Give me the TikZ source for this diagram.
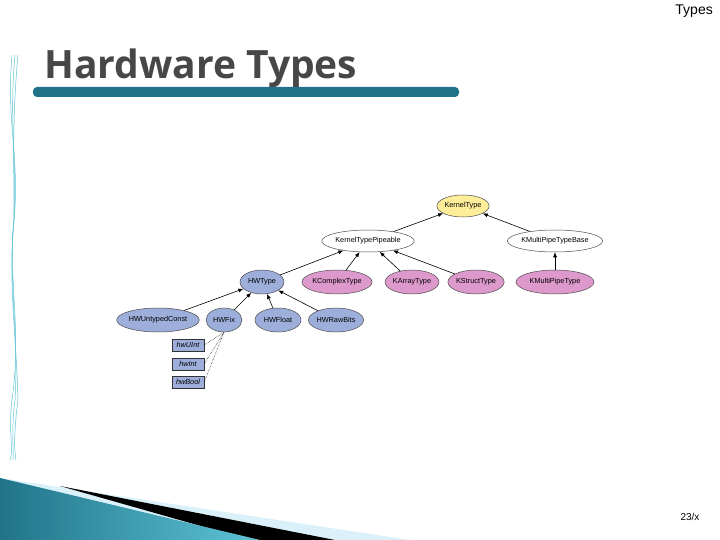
\documentclass[tikz,border=0pt]{standalone}
\usepackage{fontspec}
\setmainfont{Liberation Sans}
\newfontfamily\titlefont{Open Sans}
\usetikzlibrary{shapes.geometric,arrows.meta}
\definecolor{hwblue}{HTML}{9DAEDB}
\definecolor{kpink}{HTML}{DD99CC}
\definecolor{kyellow}{HTML}{FFEE99}
\definecolor{barteal}{HTML}{20748A}
\definecolor{deco}{HTML}{5FC3D6}
\begin{document}
\begin{tikzpicture}[x=1pt,y=-1pt,
  cls/.style={ellipse,draw=black!70,line width=0.5pt,inner sep=0pt,minimum height=22,font=\fontsize{7.3}{8}\selectfont},
  blue/.style={cls,fill=hwblue},
  pink/.style={cls,fill=kpink},
  inst/.style={rectangle,draw=black!80,fill=hwblue,inner sep=0pt,minimum width=32,minimum height=12,font=\fontsize{7.3}{8}\selectfont\itshape},
  inh/.style={-{Latex[length=5pt,width=4pt]},line width=0.6pt},
  ins/.style={densely dotted,line width=0.5pt}]
\useasboundingbox (0,0) rectangle (720,540);
\fill[white] (0,0) rectangle (720,540);
% decorations
\foreach \o in {0,3,6}{
\draw[deco,line width=0.5pt] (12+\o,55) .. controls (6+\o,120) and (20-\o,160) .. (14,220) .. controls (8,280) and (22-\o,330) .. (12+\o,400) .. controls (8+\o,430) and (14,450) .. (10+\o,460);}
\fill[black!10!cyan!15] (0,478) -- (410,540) -- (0,540) -- cycle;
\fill[black] (60,486) -- (335,540) -- (250,540) -- cycle;
\shade[left color=barteal,right color=deco] (0,478) -- (260,540) -- (0,540) -- cycle;
% texts
\node[anchor=north east,font=\fontsize{14}{16}\selectfont,inner sep=0pt] (hdr) at (713,5) {Types};
\node[anchor=base west,font=\titlefont\bfseries\fontsize{39}{42}\selectfont,text=black!72,inner sep=0pt] (title) at (44,79) {Hardware Types};
\fill[barteal,rounded corners=4pt] (33,87) rectangle (459,97);
\node[font=\fontsize{10}{12}\selectfont,inner sep=0pt] (pg) at (690,517) {23/x};
% classes
\node[cls,fill=kyellow,minimum width=50] (kt) at (463,206) {KernelType};
\node[cls,fill=white,minimum width=76] (ktp) at (368,241) {KernelTypePipeable};
\node[cls,fill=white,minimum width=86] (kmb) at (555,241) {KMultiPipeTypeBase};
\node[blue,minimum width=44,minimum height=24] (hw) at (262,282) {HWType};
\node[pink,minimum width=64,minimum height=24] (kc) at (337,282) {KComplexType};
\node[pink,minimum width=52,minimum height=24] (ka) at (412,282) {KArrayType};
\node[pink,minimum width=52,minimum height=24] (ks) at (476,282) {KStructType};
\node[pink,minimum width=78,minimum height=24] (km) at (555,282) {KMultiPipeType};
\node[blue,minimum width=78,minimum height=24] (hu) at (158,320) {HWUntypedConst};
\node[blue,minimum width=36,minimum height=24] (hf) at (224,320) {HWFix};
\node[blue,minimum width=46,minimum height=24] (hfl) at (278,320) {HWFloat};
\node[blue,minimum width=50,minimum height=24] (hr) at (336,320) {HWRawBits};
\node[inst] (iu) at (188,345) {hwUInt};
\node[inst] (ii) at (188,364) {hwInt};
\node[inst] (ib) at (188,382) {hwBool};
% edges
\draw[inh] (ktp) -- (kt);
\draw[inh] (kmb) -- (kt);
\draw[inh] (hw) -- (ktp);
\draw[inh] (kc) -- (ktp);
\draw[inh] (ka) -- (ktp);
\draw[inh] (ks) -- (ktp);
\draw[inh] (km) -- (kmb);
\draw[inh] (hu) -- (hw);
\draw[inh] (hf) -- (hw);
\draw[inh] (hfl) -- (hw);
\draw[inh] (hr) -- (hw);
\draw[ins] (iu.east) -- (hf.south);
\draw[ins] (ii.east) -- (hf.south);
\draw[ins] (ib.east) -- (hf.south);
\end{tikzpicture}
\end{document}
